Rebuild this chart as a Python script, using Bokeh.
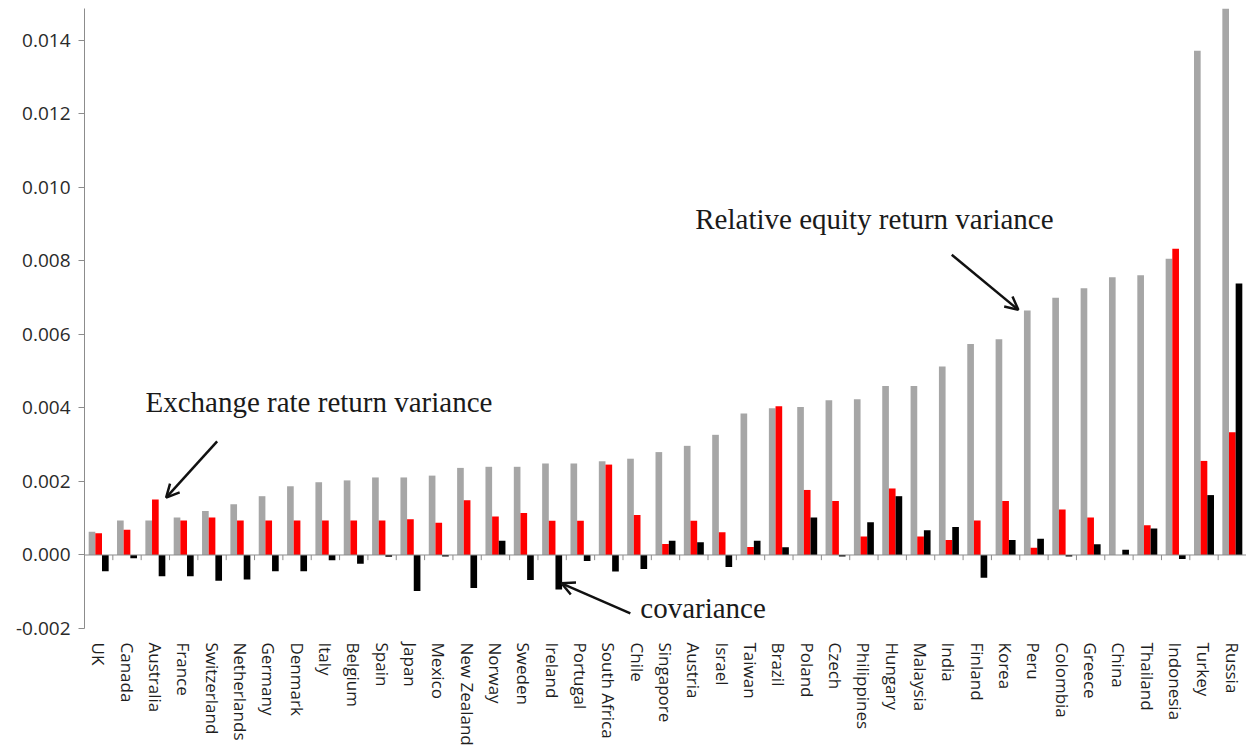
import numpy as np
from bokeh.plotting import figure
from bokeh.models import (FactorRange, Range1d, FixedTicker, NumeralTickFormatter, Span,
                          Arrow, OpenHead, Label, ColumnDataSource)
from bokeh.transform import dodge
from bokeh.embed import file_html
from bokeh.resources import INLINE

countries = ["UK", "Canada", "Australia", "France", "Switzerland", "Netherlands", "Germany",
             "Denmark", "Italy", "Belgium", "Spain", "Japan", "Mexico", "New Zealand", "Norway",
             "Sweden", "Ireland", "Portugal", "South Africa", "Chile", "Singapore", "Austria",
             "Israel", "Taiwan", "Brazil", "Poland", "Czech", "Philippines", "Hungary", "Malaysia",
             "India", "Finland", "Korea", "Peru", "Colombia", "Greece", "China", "Thailand",
             "Indonesia", "Turkey", "Russia"]

equity_var = [0.00063, 0.00094, 0.00094, 0.00102, 0.00120, 0.00138, 0.00160, 0.00187, 0.00198,
              0.00203, 0.00211, 0.00211, 0.00216, 0.00237, 0.00240, 0.00240, 0.00249, 0.00249,
              0.00255, 0.00262, 0.00280, 0.00297, 0.00327, 0.00385, 0.00399, 0.00403, 0.00421,
              0.00424, 0.00460, 0.00460, 0.00513, 0.00574, 0.00587, 0.00665, 0.00700, 0.00726,
              0.00756, 0.00761, 0.00806, 0.01372, 0.01520]

fx_var = [0.00059, 0.00069, 0.00151, 0.00094, 0.00102, 0.00094, 0.00094, 0.00094, 0.00094,
          0.00094, 0.00094, 0.00097, 0.00088, 0.00149, 0.00105, 0.00114, 0.00093, 0.00093,
          0.00246, 0.00109, 0.00030, 0.00093, 0.00062, 0.00022, 0.00405, 0.00177, 0.00147,
          0.00050, 0.00181, 0.00050, 0.00041, 0.00094, 0.00147, 0.00020, 0.00124, 0.00102,
          0.00000, 0.00081, 0.00833, 0.00256, 0.00334]

covariance = [-0.00044, -0.00009, -0.00058, -0.00058, -0.00070, -0.00067, -0.00044, -0.00044,
              -0.00014, -0.00024, -0.00005, -0.00098, -0.00004, -0.00090, 0.00039, -0.00068,
              -0.00094, -0.00016, -0.00045, -0.00038, 0.00039, 0.00035, -0.00033, 0.00039,
              0.00021, 0.00102, -0.00004, 0.00089, 0.00160, 0.00067, 0.00076, -0.00062,
              0.00041, 0.00044, -0.00004, 0.00029, 0.00014, 0.00072, -0.00011, 0.00163, 0.00739]

y_ticks = [-0.002, 0.000, 0.002, 0.004, 0.006, 0.008, 0.010, 0.012, 0.014]

src = ColumnDataSource(dict(country=countries, equity=equity_var, fx=fx_var, cov=covariance))

p = figure(x_range=FactorRange(*countries, range_padding=0), y_range=Range1d(-0.002, 0.01487),
           width=1246, height=748, output_backend="svg", toolbar_location=None,
           min_border_left=84, min_border_right=0, min_border_top=8, min_border_bottom=0)

w = 0.235
p.vbar(x=dodge('country', -w, range=p.x_range), top='equity', bottom=0, width=w,
       fill_color="#A6A6A6", line_color=None, source=src)
p.vbar(x=dodge('country', 0, range=p.x_range), top='fx', bottom=0, width=w,
       fill_color="#FF0000", line_color=None, source=src)
p.vbar(x=dodge('country', w, range=p.x_range), top='cov', bottom=0, width=w,
       fill_color="#000000", line_color=None, source=src)

# zero line with category boundary ticks
p.add_layout(Span(location=0, dimension="width", line_color="#8c8c8c", line_width=1))
bounds = list(np.arange(1, len(countries)))
p.segment(x0=bounds, y0=[0] * len(bounds), x1=bounds, y1=[-0.00014] * len(bounds),
          line_color="#8c8c8c", line_width=1)

# axes
p.xgrid.visible = False
p.ygrid.visible = False
p.outline_line_color = None

p.yaxis.ticker = FixedTicker(ticks=y_ticks)
p.yaxis.formatter = NumeralTickFormatter(format="0.000")
p.yaxis.axis_line_color = "#8c8c8c"
p.yaxis.major_tick_line_color = "#8c8c8c"
p.yaxis.major_tick_out = 6
p.yaxis.major_tick_in = 0
p.yaxis.minor_tick_line_color = None
p.yaxis.major_label_text_font = "Open Sans"
p.yaxis.major_label_text_font_size = "19px"
p.yaxis.major_label_text_color = "#2a2a2a"
p.yaxis.major_label_standoff = 8

p.xaxis.axis_line_color = None
p.xaxis.major_tick_line_color = None
p.xaxis.major_tick_out = 0
p.xaxis.major_tick_in = 0
p.xaxis.major_label_orientation = "vertical"
p.xaxis.major_label_text_font = "Open Sans"
p.xaxis.major_label_text_font_size = "17px"
p.xaxis.major_label_text_color = "#1e1e1e"
p.xaxis.major_label_standoff = 14

# annotations
font = "Liberation Serif"
for txt, x, y in [("Exchange rate return variance", 2.15, 0.00417),
                  ("Relative equity return variance", 21.55, 0.00913),
                  ("covariance", 19.61, -0.00144)]:
    p.add_layout(Label(x=x, y=y, text=txt, text_font=font, text_font_size="29px",
                       text_color="#1a1a1a", text_baseline="middle", text_align="left"))

for xs, ys, xe, ye in [(4.68, 0.00309, 2.88, 0.00156),
                       (30.6, 0.00817, 32.95, 0.00667),
                       (19.26, -0.00159, 16.83, -0.00077)]:
    p.add_layout(Arrow(x_start=xs, y_start=ys, x_end=xe, y_end=ye, line_width=2.5,
                       line_color="#111111",
                       end=OpenHead(size=13, line_width=2.5, line_color="#111111")))

open("out.html", "w").write(file_html(p, INLINE))
